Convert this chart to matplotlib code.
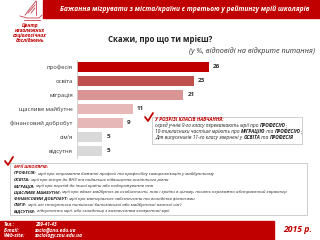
import matplotlib
matplotlib.use("Agg")
import matplotlib.pyplot as plt
from matplotlib.patches import Rectangle

plt.rcParams['font.family'] = ['Open Sans', 'DejaVu Sans']

# data
categories = ["професія", "освіта", "міграція", "щасливе майбутнє",
              "фінансовий добробут", "сім'я", "відсутня"]
values = [26, 23, 21, 11, 9, 5, 5]
colors = ["#C00000", "#C0504D", "#D99594", "#E6B8B7", "#E6B8B7", "#D9D9D9", "#D9D9D9"]

RED = "#C00000"
W, H = 320, 240

fig = plt.figure(figsize=(3.2, 2.4), dpi=100)
fig.patch.set_facecolor("white")


def fx(x):
    return x / W


def fy(y):
    return 1 - y / H


def txt(x, y, s, **kw):
    return fig.text(fx(x), fy(y), s, **kw)


# header
fig.patches.append(Rectangle((fx(43), fy(18)), 1 - fx(43), 18 / H,
                             transform=fig.transFigure, color=RED, zorder=0))
txt(185, 9, "Бажання мігрувати з міста/країни є третьою у рейтингу мрій школярів",
    color="white", fontsize=4.8, fontweight="bold", style="italic",
    ha="center", va="center")

# logo (sailboat)
boat = [[(20, 16), (27, 18), (39, 18), (42, 15)], [(25, 15), (36, 1)], [(36, 1), (36, 15)],
        [(28, 13), (35, 5)], [(31, 13), (35, 8)], [(24, 19.5), (40, 19.5)]]
for seg in boat:
    fig.add_artist(plt.Line2D([fx(p[0]) for p in seg], [fy(p[1]) for p in seg],
                              transform=fig.transFigure, color="#C84050", lw=0.6))
for i, s in enumerate(["Центр", "незалежних", "соціологічних", "досліджень"]):
    txt(30, 25 + i * 5, s, color=RED, fontsize=3.5, fontweight="bold",
        style="italic", ha="center", va="center")

# titles
txt(160, 39, "Скажи, про що ти мрієш?", fontsize=5.7, fontweight="bold",
    ha="center", va="center", color="#222222")
txt(315, 51, "(у %, відповіді на відкрите питання)", fontsize=5.2,
    style="italic", ha="right", va="center", color="#333333")

# bar chart
ax = fig.add_axes([fx(77), fy(158), 152 / W, 98 / H])
ypos = list(range(len(categories)))
ax.barh(ypos, values, height=0.65, color=colors)
for yv, v in zip(ypos, values):
    ax.text(v + 0.8, yv, str(v), va="center", ha="left", fontsize=4.6,
            fontweight="bold", color="#333333")
ax.set_yticks(ypos)
ax.set_yticklabels(categories, fontsize=4.2, color="#333333")
ax.set_ylim(len(categories) - 0.5, -0.5)
ax.set_xlim(0, 30)
ax.set_xticks([])
ax.tick_params(axis="y", length=0, pad=3)
for sp in ["top", "right", "bottom"]:
    ax.spines[sp].set_visible(False)
ax.spines["left"].set_color("#D0D0D0")
ax.spines["left"].set_linewidth(0.6)
ax.patch.set_alpha(0)


def check(x, y):
    fig.add_artist(plt.Line2D([fx(x - 3), fx(x), fx(x + 5)],
                              [fy(y - 1), fy(y + 3), fy(y - 5)],
                              transform=fig.transFigure, color=RED, lw=1.3,
                              solid_capstyle="round", zorder=5))


def box(x0, y0, x1, y1):
    fig.patches.append(Rectangle((fx(x0) + 0.004, fy(y1) - 0.006), (x1 - x0) / W, (y1 - y0) / H,
                                 transform=fig.transFigure, facecolor="#E8E8E8",
                                 edgecolor="none", zorder=1))
    fig.patches.append(Rectangle((fx(x0), fy(y1)), (x1 - x0) / W, (y1 - y0) / H,
                                 transform=fig.transFigure, facecolor="white",
                                 edgecolor="#C8C8C8", lw=0.6, zorder=2))


renderer = fig.canvas.get_renderer()


def rich(x, y, parts, fs):
    # parts: list of (text, bold)
    cur = fx(x)
    for s, b in parts:
        t = fig.text(cur, fy(y), s, fontsize=fs, style="italic",
                     fontweight="bold" if b else "normal", color="#222222",
                     ha="left", va="center", zorder=3)
        bb = t.get_window_extent(renderer=renderer)
        cur += bb.width / fig.bbox.width


# right box
box(152, 117, 302, 144)
check(148, 118)
fs = 3.5
txt(155, 119.5, "У РОЗРІЗІ КЛАСІВ НАВЧАННЯ:", color=RED, fontsize=fs,
    fontweight="bold", style="italic", va="center", zorder=3)
rich(155, 125.5, [("серед учнів 9-го класу переважають мрії про ", False), ("ПРОФЕСІЮ", True), (";", False)], fs)
rich(155, 131.5, [("10-тикласники частіше мріють про ", False), ("МІГРАЦІЮ", True), (" та ", False),
                  ("ПРОФЕСІЮ", True), (";", False)], fs)
rich(155, 137.5, [("Для випускників 11-го класу звернені у ", False), ("ОСВІТА", True), (" та ", False),
                  ("ПРОФЕСІЯ", True)], fs)

# bottom box
box(10, 163, 307, 215)
check(8, 162)
fs2 = 3.2
txt(14, 167.5, "МРІЇ ШКОЛЯРІВ:", color=RED, fontsize=fs2, fontweight="bold",
    style="italic", va="center", zorder=3)
defs = [
    ("ПРОФЕСІЯ:", " мрії про отримання бажаної професії та професійну самореалізацію у майбутньому"),
    ("ОСВІТА:", " мрії про вступ до ВНЗ та подальше підвищення освітнього рівня"),
    ("МІГРАЦІЯ:", " мрії про переїзд до іншої країни або подорожування нею"),
    ("ЩАСЛИВЕ МАЙБУТНЄ:", " мрії про вдале майбутнє як особистості, так і країни в цілому, носять переважно абстрактний характер"),
    ("ФІНАНСОВИЙ ДОБРОБУТ:", " мрії про матеріальне забезпечення та володіння фінансами"),
    ("СІМ'Я:", " мрії, які стосуються нинішньої батьківської або майбутньої власної сім'ї"),
    ("ВІДСУТНЯ:", " відсутність мрії, або складнощі з визначенням конкретної мрії"),
]
for i, (a, b) in enumerate(defs):
    rich(14, 173.5 + i * 6.3, [(a, True), (b, False)], fs2)

# footer
fig.patches.append(Rectangle((0, 0), fx(274), 19 / H, transform=fig.transFigure,
                             color=RED, zorder=0))
for i, (k, v) in enumerate([("Тел.:", "289-41-43"), ("E-mail:", "socio@znu.edu.ua"),
                            ("Web-site:", "sociology.znu.edu.ua")]):
    txt(4, 224.5 + i * 5.5, k, color="white", fontsize=3.5, fontweight="bold",
        style="italic", va="center")
    txt(35, 224.5 + i * 5.5, v, color="white", fontsize=3.5, fontweight="bold",
        style="italic", va="center")
txt(298, 230, "2015 р.", color=RED, fontsize=6.2, fontweight="bold",
    style="italic", ha="center", va="center")

fig.savefig("out.png", dpi=100)
